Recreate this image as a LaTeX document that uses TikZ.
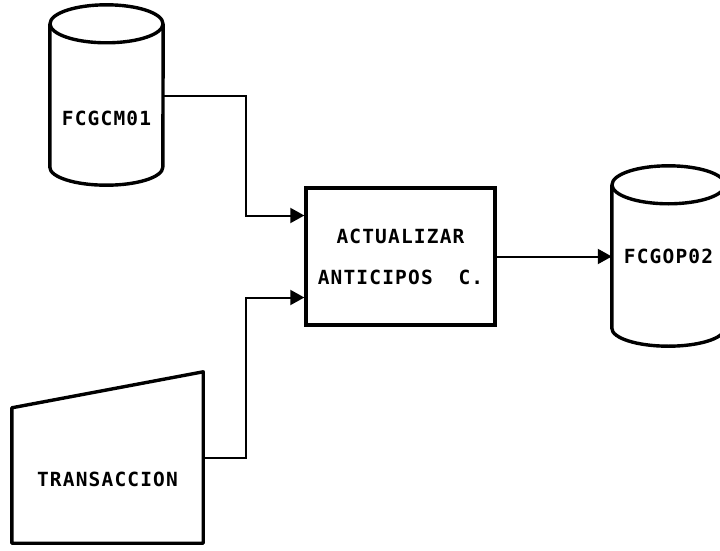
\documentclass[tikz,border=0pt]{standalone}
\usepackage{fontspec}
\setmonofont{DejaVu Sans Mono}
\usetikzlibrary{arrows.meta,positioning,calc}

\begin{document}
\begin{tikzpicture}[
        x=1pt, y=-1pt,
        every node/.style={inner sep=0pt, align=center, font=\ttfamily\bfseries\fontsize{19.5pt}{41pt}\selectfont\addfontfeature{LetterSpace=6}},
        archivo/.style={minimum width=113pt, minimum height=143pt},
        proceso/.style={draw, line width=3.4pt, minimum width=189pt, minimum height=137pt},
        borde/.style={line width=3.4pt, line join=round},
        flujo/.style={line width=2pt, -{Triangle[length=14pt, width=15pt]}}
    ]
    \useasboundingbox (0,0) rectangle (720,551);

    \node[archivo, text height=59pt, text depth=0pt] (fcgcm) at (106.5,95.5) {FCGCM01};
    \node[proceso] (act) at (400.5,256.5) {ACTUALIZAR\\ANTICIPOS\ \ C.};
    \node[archivo] (fcgop) at (668.5,256.5) {FCGOP02};
    \node[minimum width=191pt, minimum height=171pt, text height=58pt, text depth=0pt] (trans) at (107.5,457.5) {TRANSACCION};

    % cilindros
    \foreach \n in {fcgcm,fcgop} {
        \draw[borde] (\n.north west) -- (\n.south west)
            arc[start angle=180, end angle=360, x radius=56.5pt, y radius=18pt] -- (\n.north east);
        \draw[borde] (\n.north) ellipse[x radius=56.5pt, y radius=19pt];
    }
    % pantalla de entrada
    \draw[borde] (trans.south west) -- ([yshift=-36pt]trans.north west) -- (trans.north east) -- (trans.south east) -- cycle;

    \draw[flujo] (fcgcm.east) -- ++(83,0) |- ([yshift=41pt]act.west);
    \draw[flujo] (trans.east) -- ++(43,0) |- ([yshift=-41pt]act.west);
    \draw[flujo] (act.east) -- (fcgop.west);
\end{tikzpicture}
\end{document}
